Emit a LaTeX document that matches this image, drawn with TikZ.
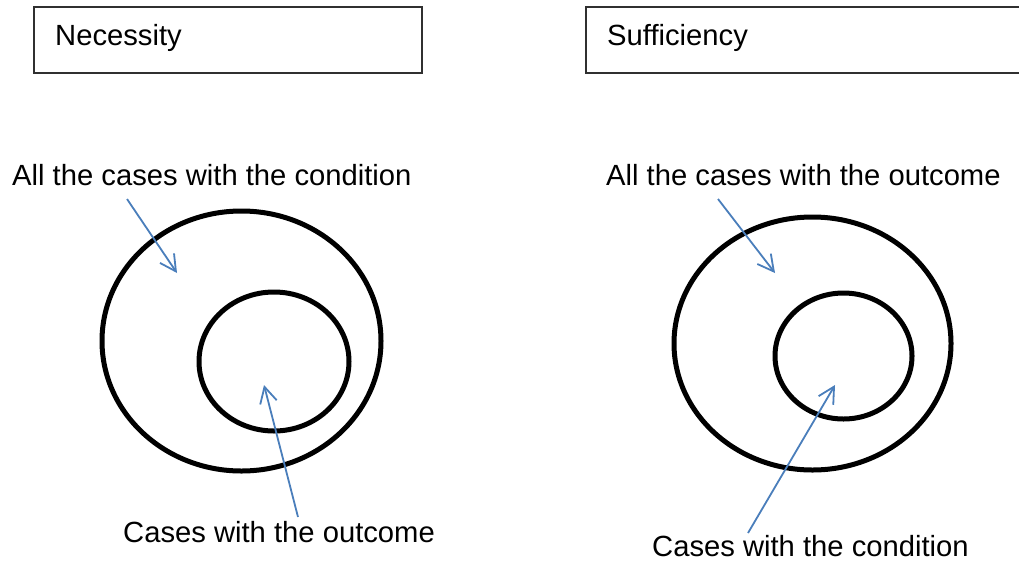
\documentclass[tikz,border=0pt]{standalone}
\usepackage{fontspec}
\setmainfont{Liberation Sans}
\usetikzlibrary{arrows.meta}
\definecolor{arrowblue}{HTML}{4A7EBB}
\definecolor{boxgray}{HTML}{303030}
\tikzset{
  titlebox/.style={draw=boxgray, line width=1.5pt},
  label/.style={anchor=base west, inner sep=0pt, font=\fontsize{29.2}{34}\selectfont},
  ring/.style={draw=black, line width=5pt},
  pointer/.style={draw=arrowblue, line width=1.8pt, -{Straight Barb[length=16pt,width=17pt,line width=1.8pt]}}
}
\begin{document}
\begin{tikzpicture}[x=1pt,y=-1pt]
\useasboundingbox (0,0) rectangle (1019,563);
\clip (0,0) rectangle (1019,563);
% title boxes
\draw[titlebox] (34,7) rectangle (422,73);
\draw[titlebox] (586,7) rectangle (1040,73);
\node[label] (nec) at (55,45) {Necessity};
\node[label] (suf) at (607,45) {Sufficiency};
% left diagram
\draw[ring] (241.5,341) ellipse [x radius=139.5, y radius=130];
\draw[ring] (274,361.5) ellipse [x radius=75, y radius=69.5];
\node[label] (lcond) at (12,185) {All the cases with the condition};
\node[label] (lout) at (123,542) {Cases with the outcome};
\coordinate (la1) at (127,199);
\coordinate (la2) at (177,273);
\coordinate (lb1) at (298,517);
\coordinate (lb2) at (264,385);
\draw[pointer] (la1) -- (la2);
\draw[pointer] (lb1) -- (lb2);
% right diagram
\draw[ring] (812.5,343.5) ellipse [x radius=138.5, y radius=126.5];
\draw[ring] (843.5,356) ellipse [x radius=68.5, y radius=63];
\node[label] (rout) at (606,185) {All the cases with the outcome};
\node[label] (rcond) at (652,556) {Cases with the condition};
\coordinate (ra1) at (718,199);
\coordinate (ra2) at (775,273);
\coordinate (rb1) at (748,533);
\coordinate (rb2) at (835,385);
\draw[pointer] (ra1) -- (ra2);
\draw[pointer] (rb1) -- (rb2);
\end{tikzpicture}
\end{document}
